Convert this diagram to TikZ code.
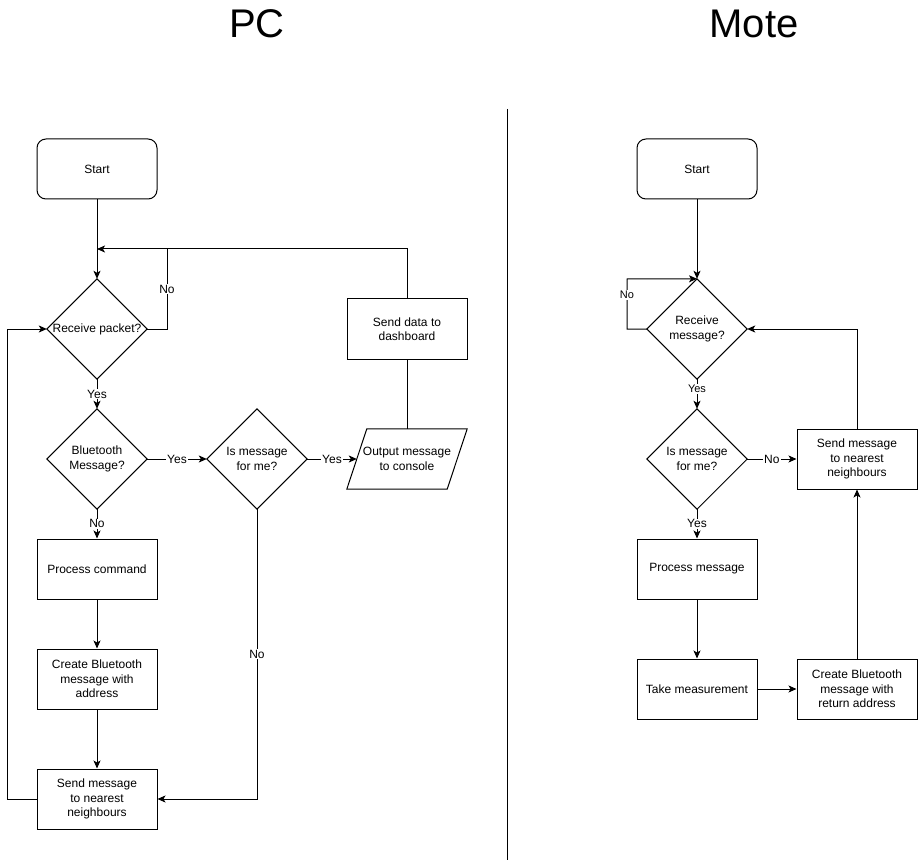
\documentclass[tikz,border=0pt]{standalone}
\usepackage{fontspec}
\setmainfont{Liberation Sans}
\usetikzlibrary{arrows.meta,calc}
\begin{document}
\begin{tikzpicture}[x=1pt,y=-1pt,
  txt/.style={font=\fontsize{12}{14.5}\selectfont},
  box/.style={txt,draw,line width=1pt,minimum width=120pt,minimum height=60pt,inner sep=0pt,align=center},
  startbox/.style={box,rounded corners=9pt},
  dia/.style={txt,minimum width=100pt,minimum height=100pt,inner sep=0pt,align=center},
  para/.style={txt,minimum width=120pt,minimum height=60pt,inner sep=0pt,align=center},
  conn/.style={line width=1pt},
  arr/.style={conn,-{Stealth[length=8pt,width=7pt,inset=2pt]}},
  lbl/.style={txt,fill=white,inner sep=1pt},
  slbl/.style={font=\fontsize{11}{13}\selectfont,fill=white,inner sep=1pt},
  title/.style={font=\fontsize{40}{48}\selectfont}
]
\useasboundingbox (0,0) rectangle (919,861);

% titles and divider
\node[title] (tpc) at (257,24) {PC};
\node[title] (tmote) at (754,24) {Mote};
\coordinate (dtop) at (507,109);
\coordinate (dbot) at (507,860);
\draw[conn] (dtop) -- (dbot);

% ---------- PC ----------
\node[startbox] (s1) at (97,169) {Start};
\node[dia] (d1) at (97,329) {Receive packet?};
\node[dia] (d2) at (97,459) {Bluetooth\\Message?};
\node[dia] (d3) at (257,459) {Is message\\for me?};
\node[para] (out) at (407,459) {Output message\\to console};
\node[box] (sd) at (407,329) {Send data to\\dashboard};
\node[box] (pc) at (97,569) {Process command};
\node[box] (cb) at (97,679) {Create Bluetooth\\message with\\address};
\node[box] (sm) at (97,799) {Send message\\to nearest\\neighbours};

\foreach \n in {d1,d2,d3}
  \draw[conn] (\n.north) -- (\n.east) -- (\n.south) -- (\n.west) -- cycle;
\draw[conn] ($(out.north west)+(20,0)$) -- (out.north east) -- ($(out.south east)+(-20,0)$) -- (out.south west) -- cycle;
\coordinate (outin) at ($(out.west)+(10,0)$);

\coordinate (j1) at (97,249);
\coordinate (j2) at (167,249);
\coordinate (j3) at (167,329);

\draw[arr] (s1) -- (d1);
\draw[arr] (sd.north) |- (j1);
\draw[conn] (d1.east) -- (j3) -- node[lbl]{No} (j2);
\draw[arr] (d1.south) -- node[lbl]{Yes} (d2.north);
\draw[arr] (d2.east) -- node[lbl]{Yes} (d3.west);
\draw[arr] (d3.east) -- node[lbl]{Yes} (outin);
\draw[conn] (out.north) -- (sd.south);
\draw[arr] (d2.south) -- node[lbl]{No} (pc.north);
\draw[arr] (pc) -- (cb);
\draw[arr] (cb) -- (sm);
\coordinate (j4) at (d3.south |- sm.east);
\draw[arr] (d3.south) -- node[lbl]{No} (j4) -- (sm.east);
\coordinate (j5) at (7,799);
\draw[arr] (sm.west) -- (j5) |- (d1.west);

% ---------- Mote ----------
\node[startbox] (s2) at (697,169) {Start};
\node[dia] (d4) at (697,329) {Receive\\message?};
\node[dia] (d5) at (697,459) {Is message\\for me?};
\node[box] (sm2) at (857,459) {Send message\\to nearest\\neighbours};
\node[box] (pm) at (697,569) {Process message};
\node[box] (tm) at (697,689) {Take measurement};
\node[box] (cb2) at (857,689) {Create Bluetooth\\message with\\return address};

\foreach \n in {d4,d5}
  \draw[conn] (\n.north) -- (\n.east) -- (\n.south) -- (\n.west) -- cycle;

\coordinate (k1) at (627,329);
\coordinate (k2) at (627,279);
\draw[arr] (s2) -- (d4);
\draw[arr] (d4.west) -- (k1) -- node[slbl,pos=0.68]{No} (k2) -- (d4.north);
\draw[arr] (d4.south) -- node[slbl,pos=0.33]{Yes} (d5.north);
\draw[arr] (d5.east) -- node[lbl]{No} (sm2.west);
\draw[arr] (sm2.north) |- (d4.east);
\draw[arr] (d5.south) -- node[lbl]{Yes} (pm.north);
\draw[arr] (pm) -- (tm);
\draw[arr] (tm) -- (cb2);
\draw[arr] (cb2) -- (sm2);
\end{tikzpicture}
\end{document}
